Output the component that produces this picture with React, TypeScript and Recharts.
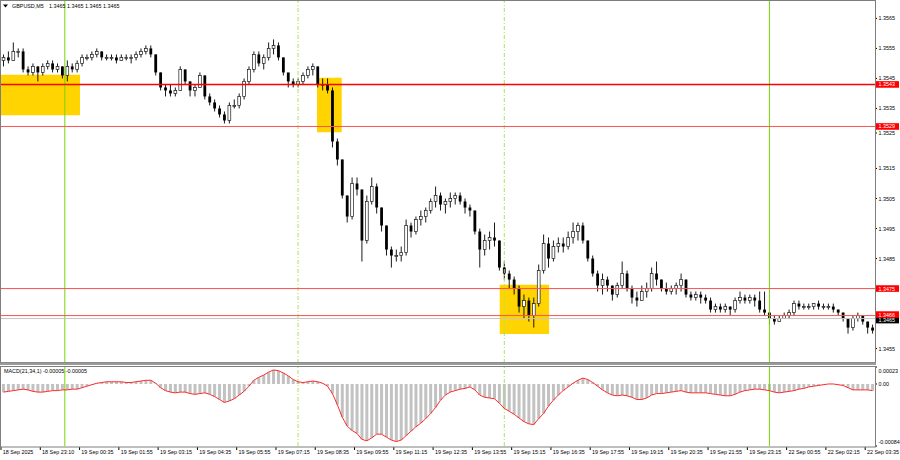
import React from "react";
import {
  ComposedChart,
  Bar,
  Line,
  XAxis,
  YAxis,
  ReferenceLine,
  ReferenceArea
} from "recharts";

// GBPUSD M5; each candle here merges two M5 bars.
// Prices are pips above 1.3400 (153 -> 1.3553). Open = previous close.
const PIP_BASE = 1.34;
const firstOpen = 151;

const highs = [
  153, 154, 157, 155, 155, 149, 150, 149, 150, 151,
  151, 150, 149, 151, 150, 151, 153, 153, 154, 155,
  154, 153, 153, 153, 153, 153, 153, 154, 155, 156,
  156, 153, 147, 143, 143, 142, 149, 148, 144, 143,
  147, 146, 140, 138, 136, 134, 137, 138, 140, 145,
  149, 154, 154, 153, 157, 158, 157, 152, 146, 145,
  145, 147, 149, 150, 149, 145, 145, 142, 125, 118,
  106, 112, 112, 108, 106, 112, 110, 102, 96, 89,
  88, 89, 98, 97, 99, 101, 102, 105, 109, 107,
  105, 107, 107, 107, 105, 103, 101, 95, 93, 94,
  97, 91, 84, 81, 79, 76, 73, 72, 72, 83,
  93, 92, 91, 92, 92, 94, 97, 97, 97, 91,
  86, 81, 80, 79, 76, 77, 84, 81, 76, 74,
  76, 77, 82, 84, 78, 77, 76, 77, 80, 78,
  74, 74, 74, 73, 72, 70, 70, 70, 69, 72,
  74, 73, 73, 73, 74, 74, 67, 66, 66, 67,
  68, 71, 71, 70, 70, 70, 71, 70, 70, 70,
  68, 67, 65, 66, 67, 66, 64, 63
];

const lows = [
  149, 150, 151, 152, 147, 146, 146, 144, 146, 148,
  147, 147, 145, 144, 147, 147, 149, 151, 151, 152,
  151, 151, 151, 150, 151, 151, 150, 151, 152, 153,
  152, 146, 141, 139, 139, 139, 141, 143, 139, 139,
  142, 138, 136, 134, 132, 130, 130, 135, 135, 138,
  143, 147, 149, 148, 151, 153, 151, 146, 142, 142,
  142, 143, 145, 146, 142, 141, 140, 122, 116, 105,
  97, 98, 106, 84, 90, 103, 100, 94, 86, 82,
  84, 84, 86, 92, 93, 96, 97, 100, 102, 101,
  100, 102, 103, 103, 100, 99, 93, 82, 86, 88,
  89, 81, 78, 75, 73, 67, 65, 64, 62, 69,
  80, 82, 84, 87, 87, 88, 90, 91, 90, 84,
  79, 74, 73, 74, 71, 72, 75, 74, 70, 69,
  71, 72, 74, 76, 74, 73, 73, 73, 74, 72,
  71, 71, 70, 70, 67, 67, 67, 67, 66, 67,
  70, 70, 70, 69, 67, 66, 63, 63, 64, 65,
  65, 66, 68, 68, 68, 68, 68, 68, 68, 67,
  66, 64, 60, 61, 64, 63, 60, 60
];

const closes = [
  152, 151, 154, 154, 148, 147, 149, 147, 149, 150,
  148, 149, 146, 149, 148, 150, 152, 152, 153, 154,
  152, 152, 152, 151, 152, 152, 152, 153, 154, 155,
  153, 147, 142, 141, 140, 141, 148, 144, 141, 142,
  146, 139, 137, 135, 133, 131, 136, 136, 139, 144,
  148, 153, 150, 152, 155, 156, 152, 147, 144, 143,
  144, 146, 148, 149, 143, 143, 141, 124, 118, 106,
  99, 110, 108, 91, 104, 109, 102, 96, 88, 86,
  86, 87, 96, 94, 98, 99, 101, 104, 106, 103,
  104, 105, 106, 104, 102, 101, 94, 88, 91, 92,
  91, 82, 80, 78, 75, 69, 71, 66, 70, 81,
  90, 85, 89, 90, 89, 92, 94, 96, 91, 85,
  80, 76, 78, 76, 73, 76, 80, 75, 72, 71,
  74, 75, 80, 78, 75, 74, 75, 76, 78, 73,
  72, 73, 72, 71, 68, 69, 68, 69, 68, 71,
  72, 71, 72, 71, 68, 67, 65, 64, 65, 66,
  67, 70, 69, 69, 69, 70, 69, 69, 69, 68,
  67, 65, 62, 65, 66, 64, 62, 61
];

// MACD(21,34,1) per candle, units of 0.00001
const macd = [
  -11, -10, -9, -8, -7, -8, -10, -11, -11, -10,
  -9, -9, -8, -8, -7, -7, -5, -3, -1, 1,
  2, 3, 3, 3, 3, 2, 2, 3, 4, 5,
  5, 1, -5, -9, -11, -12, -11, -11, -13, -14,
  -13, -12, -14, -17, -21, -25, -23, -20, -15, -10,
  -3, 5, 9, 12, 16, 19, 18, 15, 11, 6,
  3, 2, 3, 4, 3, 1, -3, -13, -28, -45,
  -57, -63, -67, -75, -77, -73, -68, -68, -72, -76,
  -78, -76, -70, -64, -58, -53, -47, -40, -32, -22,
  -15, -11, -9, -7, -6, -4, -8, -15, -18, -19,
  -20, -26, -33, -37, -41, -46, -51, -54, -55, -47,
  -40, -30, -22, -15, -9, -4, 1, 5, 8, 6,
  2, -3, -8, -12, -15, -16, -15, -16, -18, -21,
  -21, -19, -15, -13, -13, -12, -11, -10, -9, -11,
  -12, -12, -12, -12, -13, -14, -15, -16, -16, -14,
  -11, -9, -8, -7, -7, -8, -9, -11, -12, -11,
  -10, -9, -7, -6, -4, -3, -2, -1, 0, 0,
  -1, -2, -5, -8, -8, -8, -8, -9
];

const timeLabels = [
  "18 Sep 2025", "18 Sep 23:10", "19 Sep 00:35", "19 Sep 01:55",
  "19 Sep 03:15", "19 Sep 04:35", "19 Sep 05:55", "19 Sep 07:15",
  "19 Sep 08:35", "19 Sep 09:55", "19 Sep 11:15", "19 Sep 12:35",
  "19 Sep 13:55", "19 Sep 15:15", "19 Sep 16:35", "19 Sep 17:55",
  "19 Sep 19:15", "19 Sep 20:35", "19 Sep 21:55", "19 Sep 23:15",
  "22 Sep 00:55", "22 Sep 02:15", "22 Sep 03:35"
];
const LABEL_STEP = 8; // candles between time labels

const priceTicks = [1.3455, 1.3485, 1.3495, 1.3505, 1.3515, 1.3525, 1.3535, 1.3545, 1.3555, 1.3565];
const macdTicks = [0.00023, 0, -0.00084];
const macdTickText = ["0.00023", "0.00", "-0.00084"];

const levels = [1.3543, 1.3529, 1.3475, 1.3466];
const lastPrice = 1.3465;

// yellow boxes: candle range (band centres) and price range
const zoneFrom = [0, 64, 101];
const zoneTo = [16, 69, 111];
const zoneTop = [1.35462, 1.35452, 1.34763];
const zoneBottom = [1.35327, 1.35271, 1.34599];

// vertical markers as M5 bar numbers counted from the first bar
const dayBreaks = [26, 313];
const sessionMarks = [121, 205];

const FONT = '"Liberation Sans", Arial, sans-serif';
const FS = 5.4;
const PRICE_DOMAIN = [1.34502, 1.35708];
const MACD_DOMAIN = [-0.00084, 0.00023];

const toPrice = (p: number) => +(PIP_BASE + p / 10000).toFixed(5);

const candles = closes.map((c, i) => {
  const open = i === 0 ? firstOpen : closes[i - 1];
  return {
    i,
    open: toPrice(open),
    high: toPrice(highs[i]),
    low: toPrice(lows[i]),
    close: toPrice(c),
    range: [toPrice(lows[i]), toPrice(highs[i])]
  };
});

const macdData = macd.map((m, i) => ({ i, macd: m / 100000 }));
const tickBars = timeLabels.map((_, k) => k * LABEL_STEP);

function marker(m5: number) {
  return {
    x: Math.floor(m5 / 2),
    position: (m5 % 2 === 0 ? "start" : "middle") as "start" | "middle"
  };
}

function Candle(props: any) {
  const { x, y, width, height, payload } = props;
  if (!payload) return null;
  const top = Math.min(y, y + height);
  const h = Math.abs(height);
  const k = h / (payload.high - payload.low);
  const cx = x + width / 2;
  const yo = top + (payload.high - payload.open) * k;
  const yc = top + (payload.high - payload.close) * k;
  const bull = payload.close >= payload.open;
  const bt = Math.min(yo, yc);
  const bh = Math.max(1, Math.abs(yc - yo));
  return (
    <g>
      <line x1={cx} x2={cx} y1={top} y2={top + h} stroke="#000" strokeWidth={0.9} />
      <rect
        x={cx - 1.4}
        y={bt}
        width={2.8}
        height={bh}
        fill={bull ? "#ffffff" : "#000000"}
        stroke="#1a1a1a"
        strokeWidth={bull ? 0.7 : 0}
      />
    </g>
  );
}

function PriceTick(props: any) {
  const { x, y, payload } = props;
  // MT4 pushes this label clear of the 1.3529 tag
  const dy = payload.value === 1.3525 ? -5.5 : 0;
  return (
    <g>
      <line x1={x} x2={x + 2} y1={y + dy} y2={y + dy} stroke="#000" />
      <text x={x + 3.5} y={y + dy + 2} fontSize={FS} fontFamily={FONT} fill="#000">
        {payload.value.toFixed(4)}
      </text>
    </g>
  );
}

function MacdTick(props: any) {
  const { x, y, payload } = props;
  const k = macdTicks.indexOf(payload.value);
  const dy = k === 0 ? 3.5 : k === macdTicks.length - 1 ? -4.5 : 0;
  return (
    <g>
      <line x1={x} x2={x + 2} y1={y} y2={y} stroke="#000" />
      <text x={x + 3.5} y={y + dy + 2} fontSize={FS} fontFamily={FONT} fill="#000">
        {macdTickText[k]}
      </text>
    </g>
  );
}

function TimeTick(props: any) {
  const { x, y, payload } = props;
  const start = x - 2.45;
  return (
    <g>
      <line x1={start} x2={start} y1={y + 1} y2={y + 4} stroke="#000" />
      <text x={start + 1.8} y={y + 8} fontSize={FS} fontFamily={FONT} fill="#000">
        {timeLabels[payload.value / LABEL_STEP]}
      </text>
    </g>
  );
}

function PriceTag(props: any) {
  const { viewBox, tagText, tagColor, shift = 0 } = props;
  if (!viewBox) return null;
  const x = viewBox.x + viewBox.width + 1;
  const y = viewBox.y + shift;
  return (
    <g>
      <rect x={x} y={y - 3.3} width={23} height={6.6} fill={tagColor} />
      <text x={x + 2.5} y={y + 2} fontSize={FS} fontFamily={FONT} fill="#fff">
        {tagText}
      </text>
    </g>
  );
}

function markerLines() {
  return [
    ...dayBreaks.map((m) => {
      const mk = marker(m);
      return (
        <ReferenceLine
          key={"d" + m}
          x={mk.x}
          position={mk.position}
          stroke="#72d600"
          strokeWidth={1}
        />
      );
    }),
    ...sessionMarks.map((m) => {
      const mk = marker(m);
      return (
        <ReferenceLine
          key={"s" + m}
          x={mk.x}
          position={mk.position}
          stroke="#a9e35a"
          strokeWidth={1}
          strokeDasharray="4 2 1 2"
        />
      );
    })
  ];
}

const abs = (top: number): React.CSSProperties => ({
  position: "absolute",
  left: 0,
  top
});

export default function App() {
  return (
    <div style={{ position: "relative", width: 900, height: 460, background: "#fff", overflow: "hidden" }}>
      <style>{"body{margin:0}"}</style>

      {/* background layer: yellow zones */}
      <div style={abs(0)}>
        <ComposedChart width={900} height={364} data={candles} margin={{ top: 1, right: 25, bottom: 1, left: 1 }}>
          <XAxis dataKey="i" type="category" hide />
          <YAxis type="number" domain={PRICE_DOMAIN} allowDataOverflow hide />
          {zoneFrom.map((f, k) => (
            <ReferenceArea
              key={k}
              x1={f}
              x2={zoneTo[k]}
              y1={zoneBottom[k]}
              y2={zoneTop[k]}
              fill="#ffd400"
              fillOpacity={1}
              stroke="none"
            />
          ))}
        </ComposedChart>
      </div>

      {/* price panel */}
      <div style={abs(0)}>
        <ComposedChart width={900} height={364} data={candles} margin={{ top: 1, right: 0, bottom: 1, left: 1 }}>
          <XAxis dataKey="i" type="category" hide />
          <YAxis
            orientation="right"
            width={25}
            type="number"
            domain={PRICE_DOMAIN}
            allowDataOverflow
            ticks={priceTicks}
            interval={0}
            tick={<PriceTick />}
            axisLine={false}
            tickLine={false}
            tickSize={0}
            tickMargin={0}
          />
          {markerLines()}
          <ReferenceLine
            y={lastPrice}
            stroke="#c4c4c4"
            label={<PriceTag tagText={lastPrice.toFixed(4)} tagColor="#000" shift={1.5} />}
          />
          {levels.map((lv, k) => (
            <ReferenceLine
              key={lv}
              y={lv}
              stroke={k === 0 ? "#ff0000" : "#ff5252"}
              strokeWidth={k === 0 ? 1.4 : 1}
              label={<PriceTag tagText={lv.toFixed(4)} tagColor="#ff0000" shift={k === 3 ? -1 : 0} />}
            />
          ))}
          <Bar
            dataKey="range"
            isAnimationActive={false}
            shape={(p: any) => <Candle {...p} />}
          />
        </ComposedChart>
      </div>

      {/* MACD panel */}
      <div style={abs(364)}>
        <ComposedChart width={900} height={96} data={macdData} margin={{ top: 3, right: 0, bottom: 0, left: 1 }}>
          <XAxis
            dataKey="i"
            type="category"
            ticks={tickBars}
            interval={0}
            height={14}
            tick={<TimeTick />}
            axisLine={false}
            tickLine={false}
            tickSize={0}
            tickMargin={0}
          />
          <YAxis
            orientation="right"
            width={25}
            type="number"
            domain={MACD_DOMAIN}
            allowDataOverflow
            ticks={macdTicks}
            interval={0}
            tick={<MacdTick />}
            axisLine={false}
            tickLine={false}
            tickSize={0}
            tickMargin={0}
          />
          {markerLines()}
          <Bar dataKey="macd" fill="#c2c2c2" barSize={3} isAnimationActive={false} />
          <Line
            dataKey="macd"
            type="linear"
            stroke="#ff2a2a"
            strokeWidth={1}
            dot={false}
            isAnimationActive={false}
          />
        </ComposedChart>
      </div>

      {/* frames and captions */}
      <svg width={900} height={460} style={{ position: "absolute", left: 0, top: 0, pointerEvents: "none" }}>
        <rect x={0.5} y={0.5} width={875} height={362} fill="none" stroke="#7d7d7d" />
        <rect x={0} y={362.5} width={876} height={2.5} fill="#9a9a9a" />
        <rect x={0.5} y={366.5} width={875} height={80.5} fill="none" stroke="#7d7d7d" />
        <polygon points="3,4.5 8,4.5 5.5,7.5" fill="#000" />
        <text x={12} y={8} fontSize={FS} fontFamily={FONT} fill="#000">GBPUSD,M5</text>
        <text x={49} y={8} fontSize={FS} fontFamily={FONT} fill="#000">1.3465 1.3465 1.3465 1.3465</text>
        <text x={4} y={372.5} fontSize={FS} fontFamily={FONT} fill="#000">MACD(21,34,1) -0.00005 -0.00005</text>
      </svg>
    </div>
  );
}
